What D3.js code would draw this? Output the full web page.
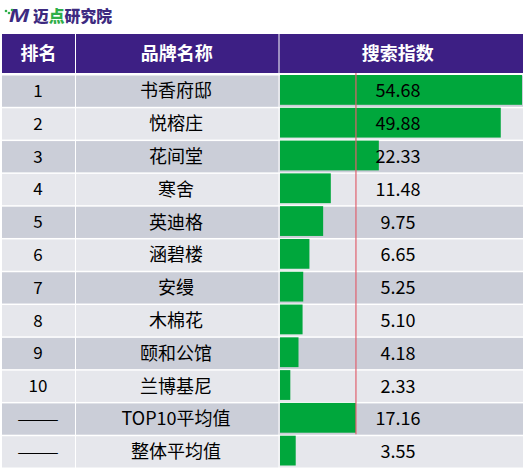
<!DOCTYPE html>
<html><head><meta charset="utf-8">
<script src="https://cdn.jsdelivr.net/npm/d3@7"></script>
<style>body{margin:0;background:#fff;}svg{display:block;font-family:"Noto Sans CJK SC","Noto Sans",sans-serif;}</style>
</head><body><svg id="c" width="524" height="469"></svg>
<script>
const ranks = ["1","2","3","4","5","6","7","8","9","10","——","——"];
const brands = ["书香府邸","悦榕庄","花间堂","寒舍","英迪格","涵碧楼","安缦","木棉花","颐和公馆","兰博基尼","TOP10平均值","整体平均值"];
const values = [54.68,49.88,22.33,11.48,9.75,6.65,5.25,5.10,4.18,2.33,17.16,3.55];
const headers = ["排名","品牌名称","搜索指数"];
const refValue = 17.16;

const svg = d3.select("#c");
const colX = [2, 75, 278.5, 523];
const headTop = 34, headBot = 73;
const y = d3.scaleBand().domain(d3.range(ranks.length)).range([74.5, 468]).paddingInner(0);
const x = d3.scaleLinear().domain([0, 54.68]).range([280, 522]);

// logo
const logo = svg.append("g");
logo.append("text").attr("x", 9).attr("y", 22).attr("font-size", 19).attr("font-weight", "900")
  .attr("font-style", "italic").attr("fill", "#3d2a80").attr("font-family", "Liberation Sans, sans-serif")
  .attr("textLength", 20).attr("lengthAdjust", "spacingAndGlyphs").text("M");
[[6,11],[9,13],[12,10]].forEach(p => logo.append("circle").attr("cx", p[0]).attr("cy", p[1]).attr("r", 1.3).attr("fill", "#2fae48"));
const lt = logo.append("text").attr("x", 33).attr("y", 21.5).attr("font-size", 16).attr("font-weight", "900").attr("fill", "#3d2a80")
  .attr("textLength", 79).attr("lengthAdjust", "spacingAndGlyphs");
lt.append("tspan").text("迈");
lt.append("tspan").attr("fill", "#2fae48").text("点");
lt.append("tspan").text("研究院");

// header
for (let i = 0; i < 3; i++) {
  svg.append("rect").attr("x", colX[i] + (i ? 1 : 0)).attr("y", headTop)
    .attr("width", colX[i+1] - colX[i] - (i ? 1 : 0)).attr("height", headBot - headTop).attr("fill", "#3d1f84");
  svg.append("text").attr("x", (colX[i] + colX[i+1]) / 2 + (i==2 ? -3 : 0)).attr("y", (headTop + headBot) / 2)
    .attr("dy", "0.36em").attr("text-anchor", "middle").attr("font-size", 18).attr("font-weight", "bold")
    .attr("fill", "#fff").text(headers[i]);
}

// rows
const rows = svg.selectAll("g.row").data(values).join("g").attr("class", "row");
for (let c = 0; c < 3; c++) {
  rows.append("rect").attr("x", colX[c] + (c ? 1 : 0)).attr("y", (d, i) => y(i) + 1)
    .attr("width", colX[c+1] - colX[c] - (c ? 1 : 0)).attr("height", y.bandwidth() - 1.5)
    .attr("fill", (d, i) => i % 2 === 0 ? "#cbced8" : "#e6e7ec");
}
rows.append("rect").attr("x", x(0)).attr("y", (d, i) => y(i) + 0.5)
  .attr("width", d => x(d) - x(0)).attr("height", y.bandwidth() - 3).attr("fill", "#00a73c");

rows.append("text").attr("x", 38).attr("y", (d, i) => y(i) + y.bandwidth() / 2)
  .attr("dy", "0.36em").attr("text-anchor", "middle").attr("font-size", 17).attr("fill", "#000")
  .each(function(d, i) {
    const t = d3.select(this).text(ranks[i]);
    if (ranks[i].startsWith("—")) t.attr("textLength", 42).attr("lengthAdjust", "spacingAndGlyphs");
  });
rows.append("text").attr("x", 176).attr("y", (d, i) => y(i) + y.bandwidth() / 2)
  .attr("dy", "0.36em").attr("text-anchor", "middle").attr("font-size", 18).attr("fill", "#000")
  .text((d, i) => brands[i]);
rows.append("text").attr("x", 398).attr("y", (d, i) => y(i) + y.bandwidth() / 2)
  .attr("dy", "0.36em").attr("text-anchor", "middle").attr("font-size", 18).attr("fill", "#000")
  .text(d => d.toFixed(2));

// reference line
svg.append("line").attr("x1", x(refValue)).attr("x2", x(refValue))
  .attr("y1", headBot).attr("y2", y(10) + y.bandwidth() - 1)
  .attr("stroke", "#e0606e").attr("stroke-width", 1.2);
</script></body></html>
